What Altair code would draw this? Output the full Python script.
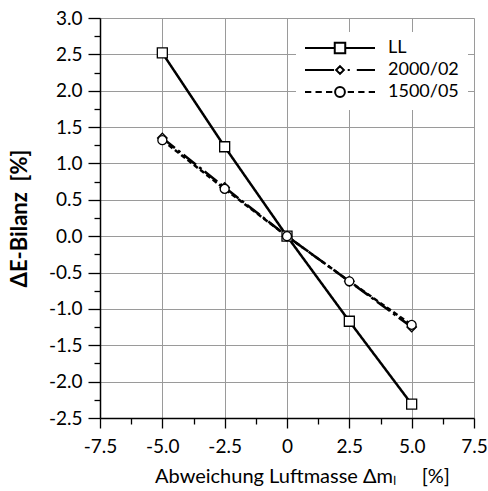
import altair as alt
import pandas as pd

# ---- data ----
series = ["LL", "2000/02", "1500/05"]
x_vals = [-5.0, -2.5, 0.0, 2.5, 5.0]
y_ll = [2.52, 1.23, 0.0, -1.17, -2.31]
y_2000 = [1.35, 0.67, 0.0, -0.62, -1.25]
y_1500 = [1.32, 0.65, 0.0, -0.62, -1.22]

x_major = [-7.5, -5.0, -2.5, 0.0, 2.5, 5.0, 7.5]
x_minor = [-6.25, -3.75, -1.25, 1.25, 3.75, 6.25]
y_major = [-2.5, -2.0, -1.5, -1.0, -0.5, 0.0, 0.5, 1.0, 1.5, 2.0, 2.5, 3.0]
y_minor = [-2.25, -1.75, -1.25, -0.75, -0.25, 0.25, 0.75, 1.25, 1.75, 2.25, 2.75]

rows = []
for name, ys in zip(series, [y_ll, y_2000, y_1500]):
    for xv, yv in zip(x_vals, ys):
        rows.append({"series": name, "x": xv, "y": yv})
df = pd.DataFrame(rows)

# ---- styles ----
FONT = "Lato"
dash_range = [[1, 0], [16, 4, 3, 4], [5, 3]]
width_range = [2.5, 2.5, 2.0]
shape_range = ["square", "diamond", "circle"]
size_range = [100, 80, 120]

# legend symbols (line + marker) in unit coordinates
leg_ll = "M-1,0H-0.15M0.15,0H1M-0.15,-0.15H0.15V0.15H-0.15Z"
leg_2000 = ("M-1,0H-0.17M0.22,0H0.28M0.48,0H1"
            "M0,-0.11L0.11,0L0,0.11L-0.11,0Z")
leg_1500 = ("M-1,0H-0.82M-0.7,0H-0.52M-0.4,0H-0.22"
            "M0.22,0H0.4M0.52,0H0.7M0.82,0H1"
            "M0.14,0A0.14,0.14,0,1,1,-0.14,0A0.14,0.14,0,1,1,0.14,0Z")
leg_paths = [leg_ll, leg_2000, leg_1500]

x_scale = alt.Scale(domain=[-7.5, 7.5], nice=False, zero=False)
y_scale = alt.Scale(domain=[-2.5, 3.0], nice=False, zero=False)

num_expr = "(datum.value < 0 ? '-' + format(-datum.value, '.1f') : format(datum.value, '.1f'))"
x_expr = "datum.value == 0 ? '0' : " + num_expr

x_axis_major = alt.Axis(
    values=x_major, grid=True, gridColor="#9a9a9a", gridWidth=1,
    tickSize=10, tickColor="black", tickWidth=1.3,
    domainColor="black", domainWidth=1.5,
    labelExpr=x_expr, labelFont=FONT, labelFontSize=19, labelColor="black",
    labelPadding=9, labelFlush=False,
    title="Abweichung Luftmasse Δmₗ\u00a0\u00a0\u00a0\u00a0\u00a0[%]",
    titleFont=FONT, titleFontSize=20, titleFontWeight="normal", titleColor="black",
    titlePadding=10, titleX=202, orient="bottom",
)
y_axis_major = alt.Axis(
    values=y_major, grid=True, gridColor="#9a9a9a", gridWidth=1,
    tickSize=12, tickColor="black", tickWidth=1.3,
    domainColor="black", domainWidth=1.5,
    labelExpr=num_expr, labelFont=FONT, labelFontSize=19, labelColor="black",
    labelPadding=6, labelFlush=False,
    title="ΔE-Bilanz\u00a0\u00a0[%]",
    titleFont=FONT, titleFontSize=22, titleFontWeight="bold", titleColor="black",
    titlePadding=17, orient="left",
)
x_axis_minor = alt.Axis(
    values=x_minor, grid=False, domain=False, labels=False, title=None,
    tickSize=6, tickColor="black", tickWidth=1.3, orient="bottom",
)
y_axis_minor = alt.Axis(
    values=y_minor, grid=False, domain=False, labels=False, title=None,
    tickSize=6, tickColor="black", tickWidth=1.3, orient="left",
)

lines = alt.Chart(df).mark_line(color="black").encode(
    x=alt.X("x:Q", scale=x_scale, axis=x_axis_major),
    y=alt.Y("y:Q", scale=y_scale, axis=y_axis_major),
    strokeDash=alt.StrokeDash("series:N", scale=alt.Scale(domain=series, range=dash_range), legend=None),
    strokeWidth=alt.StrokeWidth("series:N", scale=alt.Scale(domain=series, range=width_range), legend=None),
    detail="series:N",
)

points = alt.Chart(df).mark_point(filled=True, fill="white", stroke="black", strokeWidth=1.3, opacity=1).encode(
    x=alt.X("x:Q", scale=x_scale, axis=x_axis_minor),
    y=alt.Y("y:Q", scale=y_scale, axis=y_axis_minor),
    shape=alt.Shape("series:N", scale=alt.Scale(domain=series, range=shape_range), legend=None),
    size=alt.Size("series:O", scale=alt.Scale(domain=series, range=size_range), legend=None),
)

legend_layer = alt.Chart(df).transform_filter(
    "datum.x > 100"
).mark_point(filled=False, color="black", strokeWidth=2, opacity=1).encode(
    x=alt.X("x:Q", scale=x_scale, axis=None),
    y=alt.Y("y:Q", scale=y_scale, axis=None),
    shape=alt.Shape(
        "series:N",
        scale=alt.Scale(domain=series, range=leg_paths),
        legend=alt.Legend(
            title=None, orient="none", legendX=196, legendY=14,
            symbolSize=4900, symbolStrokeWidth=2, symbolStrokeColor="black",
            symbolFillColor="white", symbolOpacity=1, clipHeight=16, rowPadding=4,
            labelFont=FONT, labelFontSize=18, labelColor="black", labelOffset=12,
            padding=8, fillColor="white", strokeColor="white",
        ),
    ),
)

chart = alt.layer(lines, points, legend_layer).resolve_scale(
    shape="independent"
).resolve_axis(
    x="independent", y="independent"
).properties(
    width=374, height=400,
    padding={"left": 100, "top": 18, "right": 14, "bottom": 73},
    autosize=alt.AutoSizeParams(type="none"),
).configure_view(
    stroke="black", strokeWidth=1.5
).configure(
    font=FONT, background="white"
)

chart.save("out.html", embed_options={"renderer": "svg", "actions": False})
